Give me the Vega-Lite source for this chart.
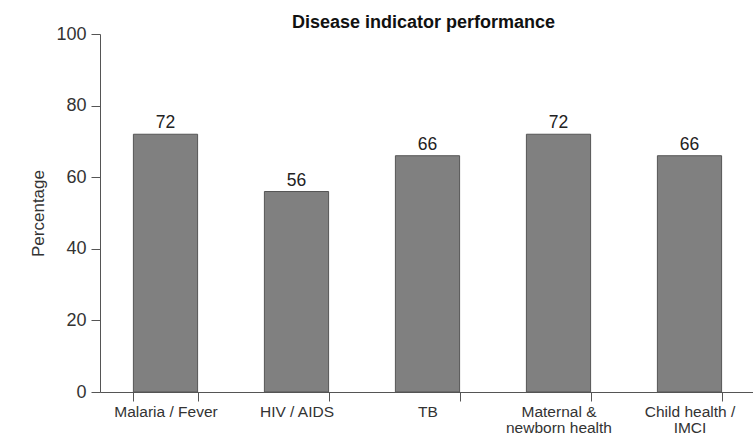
{
  "$schema": "https://vega.github.io/schema/vega-lite/v6.json",
  "width": 655,
  "height": 358,
  "autosize": "none",
  "padding": {"left": 100, "top": 34, "right": 0, "bottom": 53},
  "background": "white",
  "title": {
    "text": "Disease indicator performance",
    "font": "Liberation Sans",
    "fontSize": 18,
    "fontWeight": "bold",
    "color": "#111",
    "anchor": "middle",
    "offset": -7,
    "dx": -4
  },
  "data": {
    "values": [
      {"category": "Malaria / Fever", "value": 72},
      {"category": "HIV / AIDS", "value": 56},
      {"category": "TB", "value": 66},
      {"category": "Maternal & newborn health", "value": 72},
      {"category": "Child health / IMCI", "value": 66}
    ]
  },
  "config": {
    "view": {"stroke": null},
    "font": "Liberation Sans"
  },
  "encoding": {
    "x": {
      "field": "category",
      "type": "nominal",
      "sort": null,
      "scale": {"paddingInner": 0.51, "paddingOuter": 0.255},
      "axis": {
        "title": null,
        "labelAngle": 0,
        "labelFont": "Liberation Sans",
        "labelFontSize": 15.5,
        "labelColor": "#333",
        "labelPadding": 3,
        "labelLineHeight": 16.5,
        "labelExpr": "datum.label == 'Maternal & newborn health' ? ['Maternal &', 'newborn health'] : datum.label == 'Child health / IMCI' ? ['Child health /', 'IMCI'] : datum.label",
        "tickBand": "extent",
        "tickSize": 9,
        "tickColor": "#555",
        "domainColor": "#555",
        "labelBaseline": "top"
      }
    },
    "y": {
      "field": "value",
      "type": "quantitative",
      "scale": {"domain": [0, 100], "nice": false},
      "axis": {
        "title": "Percentage",
        "titleFont": "Liberation Sans",
        "titleFontSize": 17,
        "titleFontWeight": "normal",
        "titleColor": "#333",
        "titlePadding": 8,
        "values": [0, 20, 40, 60, 80, 100],
        "grid": false,
        "labelFont": "Liberation Sans",
        "labelFontSize": 18,
        "labelColor": "#333",
        "labelPadding": 5,
        "tickSize": 9,
        "tickColor": "#555",
        "domainColor": "#555"
      }
    }
  },
  "layer": [
    {
      "mark": {"type": "bar", "fill": "#808080", "stroke": "#555", "strokeWidth": 1}
    },
    {
      "mark": {"type": "text", "baseline": "bottom", "dy": -2, "fontSize": 17.5, "color": "#222", "font": "Liberation Sans"},
      "encoding": {"text": {"field": "value", "type": "quantitative"}}
    }
  ]
}
